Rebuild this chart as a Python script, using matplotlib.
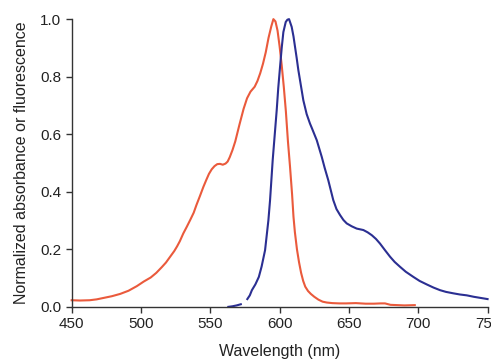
import numpy as np
import matplotlib
matplotlib.use("Agg")
import matplotlib.pyplot as plt

plt.rcParams['font.family'] = ['Liberation Sans', 'DejaVu Sans']

abs_wl = [450, 456, 463, 468, 473, 479, 485, 491, 497, 502, 507, 511, 515, 518, 521, 524, 526, 528, 530.5,
          533, 535.5, 538, 540, 542.5, 545, 547, 549, 551, 553, 555, 557, 559, 561, 562.5, 564, 566,
          568, 571, 574, 576.5, 579, 582, 584, 586, 588, 590, 592, 594, 595.5, 597, 598.5, 600, 601.5,
          603, 604.5, 606, 607.5, 609, 610, 611, 612.5, 614, 615.5, 617, 618.5, 620.5, 622.5, 625,
          628, 631, 634, 638, 643, 648, 655, 662, 668, 673, 676, 680, 685, 690, 697.5]
abs_val = [0.023, 0.022, 0.023, 0.026, 0.031, 0.037, 0.045, 0.056, 0.072, 0.088, 0.102, 0.118, 0.138, 0.154,
           0.174, 0.194, 0.21, 0.228, 0.255, 0.278, 0.302, 0.327, 0.354, 0.385, 0.417, 0.44, 0.462, 0.478,
           0.489, 0.496, 0.497, 0.494, 0.498, 0.505, 0.52, 0.545, 0.575, 0.633, 0.688, 0.725, 0.748, 0.765,
           0.785, 0.812, 0.845, 0.885, 0.935, 0.975, 1.0, 0.992, 0.96, 0.905, 0.84, 0.765, 0.68, 0.575, 0.487,
           0.39, 0.313, 0.26, 0.2, 0.155, 0.118, 0.09, 0.07, 0.055, 0.045, 0.035, 0.025, 0.018, 0.015, 0.013,
           0.012, 0.012, 0.013, 0.011, 0.011, 0.012, 0.012, 0.007, 0.006, 0.005, 0.006]

fl_wl = [563, 566, 569, 572, 574, 576.7, 578.5, 580, 582.5, 585, 587, 589.5, 591.9, 593.1, 595, 596.5,
         597.9, 599, 600.3, 601.5, 602.7, 604.4, 605.6, 606.8, 608.7, 610, 611.1, 612.3, 613.5, 615.9,
         617.1, 619.5, 621.9, 623.2, 626.8, 630.4, 632.5, 635.1, 638.7, 641, 643.6, 646, 648.4, 652,
         655.6, 660.4, 663.5, 666.5, 669.5, 672.4, 676, 679.7, 683, 686.9, 691, 696.5, 701, 706.1, 711,
         715.7, 720, 725.3, 730, 735, 740, 745, 750]
fl_val = [0.0, 0.002, 0.005, 0.009, np.nan, 0.027, 0.04, 0.058, 0.078, 0.104, 0.14, 0.197, 0.301, 0.371,
          0.51, 0.6, 0.684, 0.76, 0.834, 0.9, 0.955, 0.99, 0.998, 1.0, 0.973, 0.94, 0.904, 0.865, 0.823,
          0.753, 0.718, 0.67, 0.637, 0.622, 0.579, 0.521, 0.483, 0.44, 0.371, 0.34, 0.319, 0.302, 0.29,
          0.28, 0.272, 0.267, 0.259, 0.249, 0.236, 0.22, 0.197, 0.174, 0.156, 0.139, 0.122, 0.104, 0.09,
          0.078, 0.067, 0.058, 0.052, 0.047, 0.043, 0.04, 0.035, 0.031, 0.027]

xticks = [450, 500, 550, 600, 650, 700, 750]
yticks = [0.0, 0.2, 0.4, 0.6, 0.8, 1.0]

fig = plt.figure(figsize=(4.91, 3.61), dpi=100)
ax = fig.add_axes([0.146, 0.150, 0.847, 0.797])
ax.plot(abs_wl, abs_val, color='#ea5a3c', lw=1.5, clip_on=False)
ax.plot(fl_wl, fl_val, color='#2b2f92', lw=1.5, clip_on=False)

ax.set_xlim(450, 750)
ax.set_ylim(0, 1.0)
ax.set_xticks(xticks)
ax.set_yticks(yticks)
ax.set_xticklabels([str(t) for t in xticks])
ax.set_yticklabels([f"{t:.1f}" for t in yticks])
for s in ['top', 'right']:
    ax.spines[s].set_visible(False)
for s in ['left', 'bottom']:
    ax.spines[s].set_color('#333333')
    ax.spines[s].set_linewidth(1.0)
ax.tick_params(direction='out', length=4, width=1, colors='#333333', labelsize=11, labelcolor='#222222')
ax.set_xlabel('Wavelength (nm)', fontsize=11.5, color='#222222', labelpad=9)
ax.set_ylabel('Normalized absorbance or fluorescence', fontsize=11.5, color='#222222', labelpad=8)

fig.savefig('out.png', dpi=100)
